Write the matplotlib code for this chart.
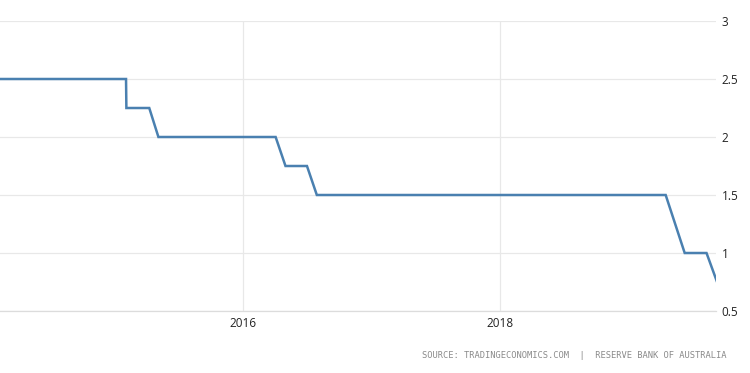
import matplotlib
matplotlib.use("Agg")
import matplotlib.pyplot as plt
import matplotlib.dates as mdates
import matplotlib.ticker as mticker
import pandas as pd

dates = ["2014-01-01", "2015-02-03", "2015-02-04", "2015-04-10", "2015-05-06",
         "2016-04-03", "2016-05-01", "2016-07-01", "2016-07-29",
         "2019-04-16", "2019-06-09", "2019-08-10", "2019-09-09"]
rates = [2.5, 2.5, 2.25, 2.25, 2.0, 2.0, 1.75, 1.75, 1.5, 1.5, 1.0, 1.0, 0.75]
y_ticks = [0.5, 1, 1.5, 2, 2.5, 3]
x_ticks = ["2016-01-01", "2018-01-01"]
x_range = ["2014-02-10", "2019-09-06"]
source = "SOURCE: TRADINGECONOMICS.COM  |  RESERVE BANK OF AUSTRALIA"

fig = plt.figure(figsize=(7.5, 3.73), dpi=100)
ax = fig.add_axes([0.0, 0.1662, 0.9547, 0.7775])

x = pd.to_datetime(dates)
ax.plot(x, rates, color="#4a80b0", linewidth=1.8, solid_joinstyle="miter", zorder=3, clip_on=True)

ax.set_xlim(pd.to_datetime(x_range[0]), pd.to_datetime(x_range[1]))
ax.set_ylim(0.5, 3.0)
ax.set_yticks(y_ticks)
ax.yaxis.set_major_formatter(mticker.FuncFormatter(lambda v, p: f"{v:g}"))
ax.set_xticks(pd.to_datetime(x_ticks))
ax.xaxis.set_major_formatter(mdates.DateFormatter("%Y"))

ax.yaxis.tick_right()
ax.grid(True, color="#e8e8e8", linewidth=0.9, zorder=0)
for s in ["top", "left", "right"]:
    ax.spines[s].set_visible(False)
ax.spines["bottom"].set_color("#dcdcdc")
ax.spines["bottom"].set_linewidth(0.9)
ax.tick_params(axis="both", length=0, labelsize=8.5, labelcolor="#222222")
ax.tick_params(axis="y", pad=4)
ax.tick_params(axis="x", pad=4)
for lab in ax.get_xticklabels() + ax.get_yticklabels():
    lab.set_fontfamily("Open Sans")

fig.text(0.969, 0.048, source, ha="right", va="center", fontsize=6.3,
         color="#8a8a8a", family="DejaVu Sans Mono")

fig.savefig("out.png", dpi=100, facecolor="white")
